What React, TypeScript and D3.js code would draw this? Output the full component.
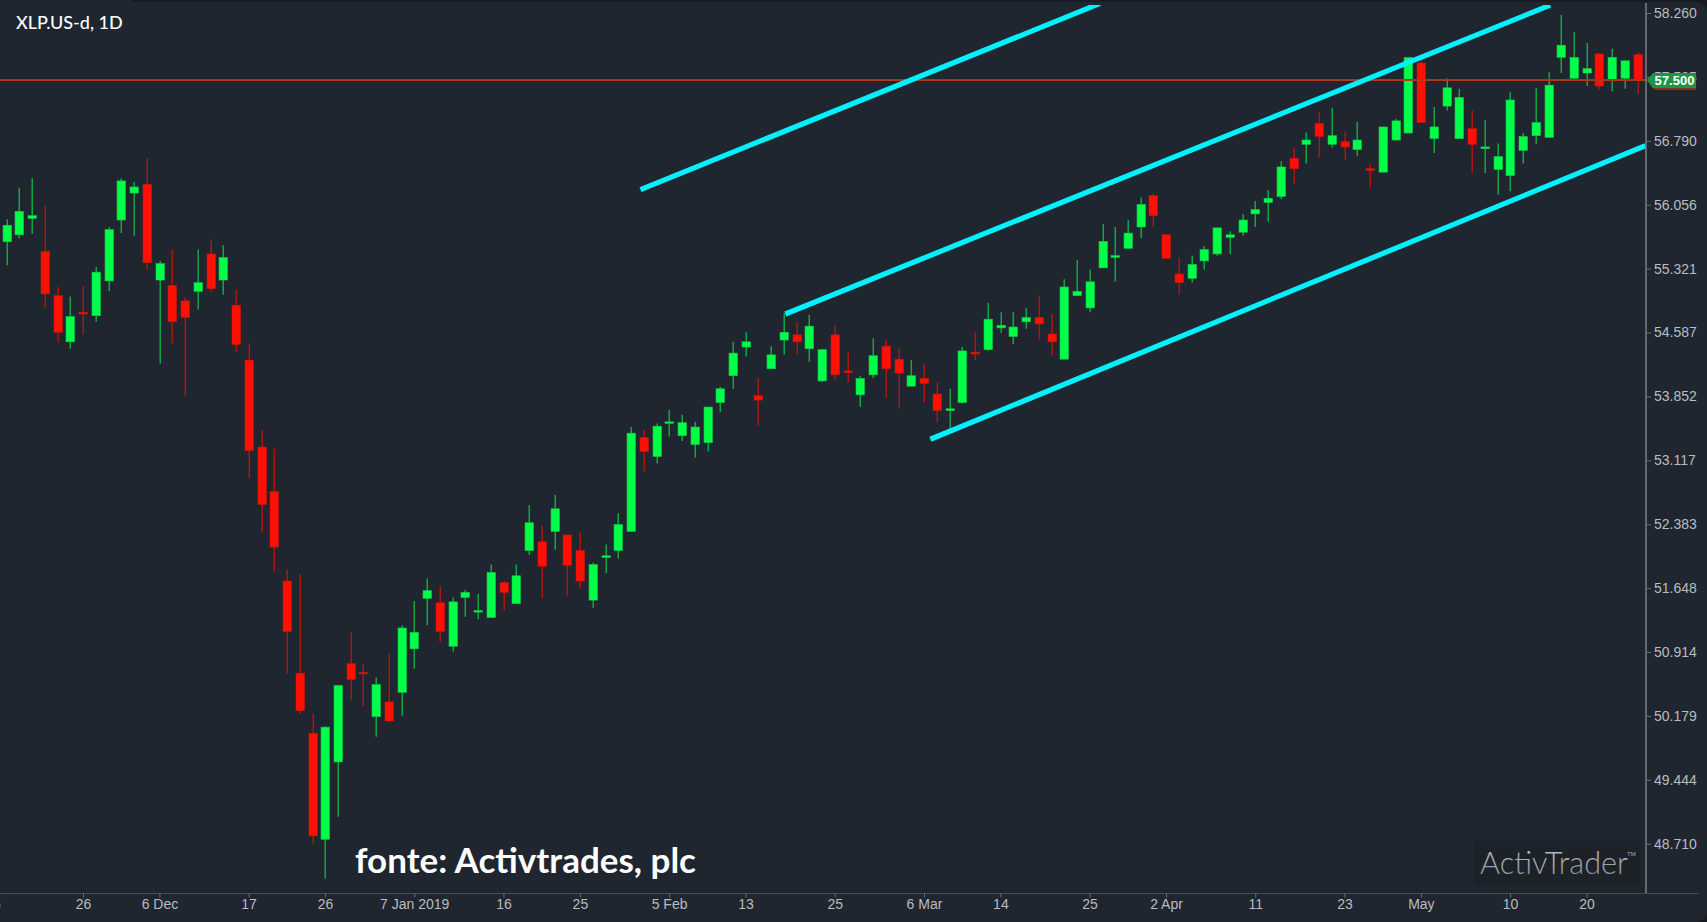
import * as d3 from "d3";
import { useEffect, useRef } from "react";

const width = 1707;
const height = 922;
const plot = { left: 0, right: 1646, top: 5, bottom: 893 };

const opens = [55.63,55.71,55.90,55.52,55.01,54.48,54.82,54.78,55.18,55.88,56.19,56.29,55.19,55.13,54.95,55.06,55.49,55.19,54.90,54.27,53.27,52.76,51.73,50.67,49.98,48.76,49.65,50.78,50.68,50.17,50.34,50.45,50.95,51.53,51.48,50.98,51.54,51.38,51.31,51.71,51.47,52.08,52.18,52.30,52.26,52.08,51.51,52.00,52.08,52.30,53.38,53.16,53.55,53.40,53.30,53.32,53.78,54.09,54.42,53.86,54.17,54.50,54.56,54.40,54.03,54.56,54.145,53.87,54.10,54.43,54.28,53.97,54.06,53.88,53.69,53.78,54.36,54.39,54.64,54.54,54.71,54.76,54.57,54.28,55.01,54.87,55.33,55.45,55.555,55.80,56.16,55.71,55.26,55.21,55.41,55.49,55.68,55.74,55.95,56.08,56.15,56.59,56.75,56.99,56.75,56.78,56.69,56.47,56.43,56.80,56.88,57.685,56.815,57.19,56.815,56.93,56.70,56.46,56.39,56.68,56.85,56.83,57.75,57.51,57.57,57.79,57.49,57.51,57.78];
const closes = [55.82,55.98,55.93,55.03,54.59,54.77,54.80,55.28,55.77,56.33,56.26,55.39,55.38,54.71,54.76,55.16,55.09,55.45,54.45,53.23,52.61,52.12,51.15,50.24,48.80,50.05,50.53,50.60,50.67,50.54,50.12,51.19,51.14,51.62,51.15,51.49,51.60,51.39,51.83,51.60,51.79,52.40,51.90,52.56,51.91,51.73,51.92,52.02,52.38,53.43,53.22,53.51,53.56,53.55,53.50,53.73,53.94,54.35,54.48,53.81,54.33,54.59,54.48,54.66,54.39,54.10,54.13,54.06,54.32,54.17,54.12,54.09,54.00,53.69,53.71,54.375,54.34,54.74,54.67,54.65,54.76,54.685,54.48,55.11,55.06,55.17,55.635,55.47,55.73,56.06,55.93,55.44,55.16,55.37,55.54,55.79,55.71,55.88,56.00,56.13,56.49,56.47,56.80,56.84,56.85,56.72,56.80,56.45,56.95,57.02,57.75,57.00,56.95,57.40,57.29,56.75,56.72,56.61,57.26,56.84,57.00,57.43,57.89,57.75,57.62,57.42,57.75,57.71,57.49];
const highs = [55.89,56.25,56.36,56.05,55.11,55.00,55.12,55.34,55.80,56.36,56.32,56.59,55.41,55.54,54.99,55.54,55.66,55.59,55.08,54.46,53.47,53.25,51.86,51.81,50.21,50.06,50.53,51.14,50.78,50.62,50.90,51.22,51.50,51.76,51.67,51.54,51.63,51.58,51.92,51.73,51.92,52.60,52.37,52.72,52.26,52.29,51.94,52.15,52.51,53.50,53.47,53.54,53.70,53.64,53.56,53.73,53.96,54.48,54.59,54.06,54.43,54.81,54.71,54.79,54.40,54.67,54.36,54.09,54.52,54.50,54.41,54.27,54.23,54.01,53.94,54.42,54.59,54.93,54.82,54.82,54.87,55.01,54.80,55.20,55.42,55.31,55.835,55.80,55.88,56.14,56.19,55.71,55.45,55.47,55.58,55.79,55.75,55.95,56.10,56.225,56.555,56.71,56.885,57.12,57.17,56.90,57.01,56.535,56.95,57.04,57.75,57.73,57.18,57.51,57.39,57.14,57.03,56.76,57.35,56.88,57.40,57.58,58.24,58.04,57.915,57.80,57.85,57.72,57.81];
const lows = [55.36,55.67,55.72,54.87,54.47,54.40,54.56,54.71,55.06,55.73,55.70,55.31,54.23,54.46,53.86,54.85,55.05,55.02,54.36,52.91,52.29,51.84,50.66,50.20,48.71,48.31,49.02,50.36,50.29,49.94,50.12,50.18,50.72,51.22,51.03,50.92,51.32,51.29,51.31,51.39,51.47,52.03,51.53,52.09,51.56,51.64,51.42,51.82,51.99,52.30,52.99,53.08,53.39,53.34,53.15,53.22,53.67,53.94,54.31,53.52,54.17,54.33,54.34,54.25,54.02,54.04,54.01,53.73,54.06,53.84,53.71,53.97,53.78,53.55,53.48,53.77,54.27,54.375,54.58,54.455,54.63,54.51,54.32,54.28,55.01,54.82,55.33,55.17,55.555,55.67,55.80,55.44,55.02,55.16,55.31,55.47,55.49,55.70,55.80,55.86,56.12,56.30,56.53,56.60,56.71,56.57,56.62,56.26,56.43,56.79,56.88,57.00,56.65,57.14,56.815,56.42,56.42,56.17,56.21,56.53,56.75,56.83,57.57,57.50,57.42,57.375,57.36,57.39,57.33];

const priceTicks = [58.26,57.525,56.79,56.056,55.321,54.587,53.852,53.117,52.383,51.648,50.914,50.179,49.444,48.71];
const timeTickIndex = [-1.1,6,12,19,25,32,39,45,52,58,65,72,78,85,91,98,105,111,118,124];
const timeTickLabels = ["15","26","6 Dec","17","26","7 Jan 2019","16","25","5 Feb","13","25","6 Mar","14","25","2 Apr","11","23","May","10","20"];

// channel lines, as [candle index, price] pairs
const channels = [
  [[49.7, 56.23], [85.76, 58.37]],
  [[61.07, 54.80], [121.1, 58.35]],
  [[72.45, 53.36], [128.57, 56.735]],
];

const lastPrice = 57.49;

const x = d3.scaleLinear([0, 128], [7.2, 1638.2]);
const y = d3.scaleLinear([48.71, 58.26], [843.7, 13]);
const channelLine = d3.line().x(d => x(d[0])).y(d => y(d[1]));

export default function App() {
  const gx = useRef<SVGGElement>(null);
  const gy = useRef<SVGGElement>(null);

  useEffect(() => {
    const ax = d3.axisBottom(x).tickValues(timeTickIndex).tickFormat((d, i) => timeTickLabels[i]).tickSize(4).tickPadding(2);
    const ay = d3.axisRight(y).tickValues(priceTicks).tickFormat(d3.format(".3f")).tickSize(4).tickPadding(3);
    d3.select(gx.current).call(ax);
    d3.select(gy.current).call(ay);
    for (const g of [gx.current, gy.current]) {
      const s = d3.select(g);
      s.select(".domain").remove();
      s.selectAll("line").attr("stroke", "#6a6e75");
      s.selectAll("text").attr("fill", "#b9bcc0").style("font", "14px 'Liberation Sans'");
    }
  }, []);

  const tagY = y(lastPrice);

  return (
    <svg width={width} height={height} style={{ position: "absolute", left: 0, top: 0, display: "block" }}>
      <defs>
        <clipPath id="plotClip">
          <rect x={plot.left} y={plot.top} width={plot.right - plot.left} height={plot.bottom - plot.top} />
        </clipPath>
        <linearGradient id="wm" x1="0" x2="0" y1="0" y2="1">
          <stop offset="0" stopColor="#c3c8ce" />
          <stop offset="1" stopColor="#7f8790" />
        </linearGradient>
      </defs>
      <rect width={width} height={height} fill="#171a20" />
      <rect x={-30} y={2} width={width + 30} height={height - 2} rx={10} fill="#20262f" />
      <rect x={0} y={0} width={133} height={3} fill="#20262f" />

      <text x={16} y={29} fill="#ffffff" style={{ font: "500 18px Lato" }}>XLP.US-d, 1D</text>

      <rect x={1474} y={841} width={166} height={44} fill="#1d2128" />
      <text x={1480} y={874} fill="url(#wm)" style={{ font: "300 30.7px Lato" }}>ActivTrader</text>
      <text x={1627} y={856} fill="#aab0b6" style={{ font: "6px 'Liberation Sans'" }}>TM</text>

      <g>
        {opens.map((open, i) => {
          const up = closes[i] >= open;
          const cx = Math.floor(x(i));
          const top = y(Math.max(open, closes[i]));
          const bot = y(Math.min(open, closes[i]));
          return (
            <g key={i}>
              <line x1={cx + 0.25} x2={cx + 0.25} y1={y(highs[i])} y2={y(lows[i])} strokeWidth={1.5} stroke={up ? "#10a544" : "#a81612"} />
              <rect x={cx - 4} y={top} width={8.5} height={Math.max(bot - top, 1.5)} fill={up ? "#00ff47" : "#ff1000"} stroke={up ? "#0fc74a" : "#c8140e"} strokeWidth={0.6} />
            </g>
          );
        })}
      </g>

      <line x1={0} x2={plot.right} y1={tagY - 0.5} y2={tagY - 0.5} stroke="#2f6f38" strokeWidth={1} />
      <line x1={0} x2={plot.right} y1={tagY + 0.5} y2={tagY + 0.5} stroke="#b5391d" strokeWidth={1} />

      <g clipPath="url(#plotClip)">
        {channels.map((c, i) => (
          <path key={i} d={channelLine(c)} fill="none" stroke="#00f2ff" strokeWidth={5.2} />
        ))}
      </g>

      <text x={355} y={873} fill="#ffffff" style={{ font: "700 35px Lato" }}>fonte: Activtrades, plc</text>

      <line x1={0} x2={1699} y1={893.5} y2={893.5} stroke="#474c55" strokeWidth={1} />
      <line x1={plot.right} x2={plot.right} y1={3} y2={893} stroke="#7c7f84" strokeWidth={1.5} />
      <g ref={gx} transform={`translate(-0.7,${893.5})`} />
      <g ref={gy} transform={`translate(${plot.right + 1},0)`} />

      <path d={`M1647,${tagY + 2} L1652,${tagY + 8} H1696 V${tagY + 10} H1655 Z`} fill="#8f2a22" />
      <path d={`M1647,${tagY} L1653,${tagY - 7} H1696 V${tagY + 8} H1653 Z`} fill="#1c9643" />
      <text x={1674.5} y={tagY + 5} textAnchor="middle" fill="#ffffff" style={{ font: "bold 13px 'Liberation Sans'" }}>57.500</text>
    </svg>
  );
}
